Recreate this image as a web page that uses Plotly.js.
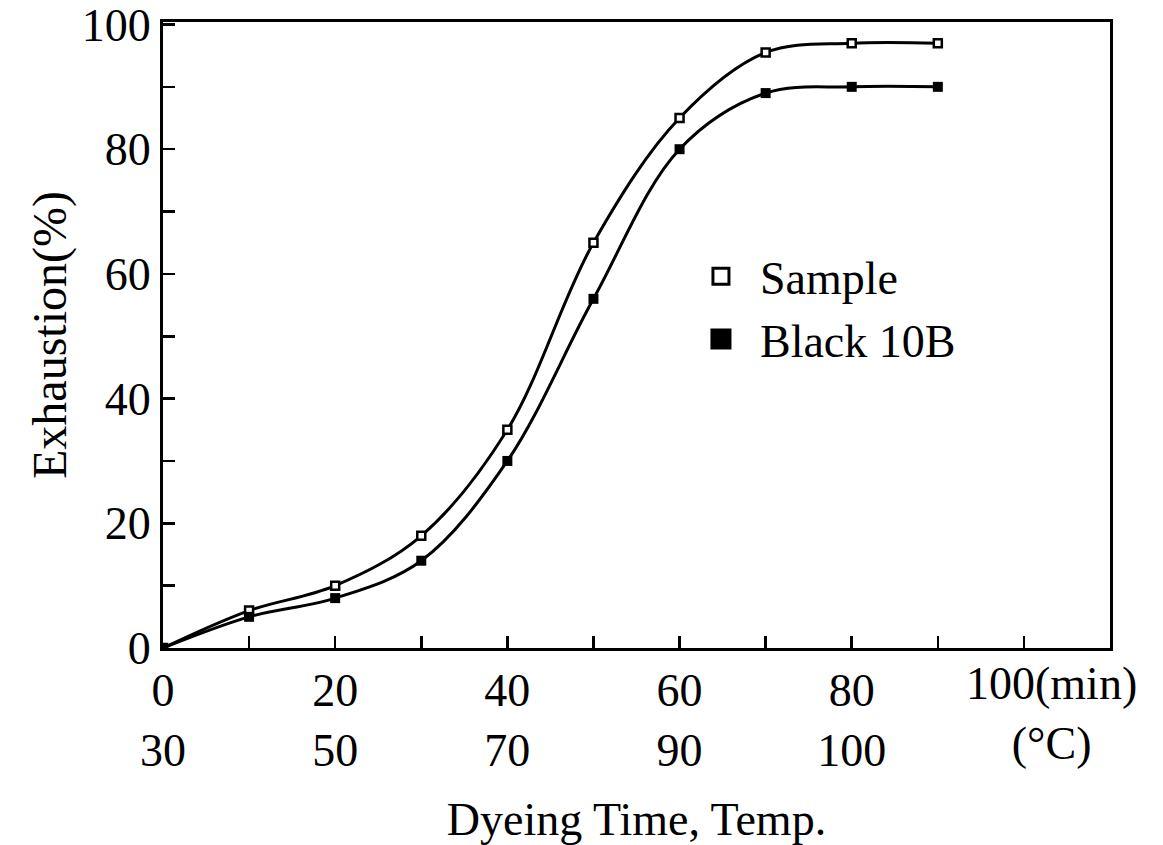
<!DOCTYPE html>
<html>
<head>
<meta charset="utf-8">
<script src="https://cdn.plot.ly/plotly-3.0.1.min.js"></script>
<style>html,body{margin:0;padding:0;background:#fff}#chart{width:1163px;height:845px}</style>
</head>
<body>
<div id="chart"></div>
<script>
const dyeTime = [0, 10, 20, 30, 40, 50, 60, 70, 80, 90];
const sampleExhaustion = [0, 6, 10, 18, 35, 65, 85, 95.5, 97, 97];
const black10BExhaustion = [0, 5, 8, 14, 30, 56, 80, 89, 90, 90];
const timeTickVals = [0, 20, 40, 60, 80];
const timeTickLabels = ['0', '20', '40', '60', '80'];
const tempTickLabels = ['30', '50', '70', '90', '100'];
const exhaustionTickVals = [0, 20, 40, 60, 80, 100];
const lastTimeLabel = '100(min)';
const lastTempLabel = '(°C)';
const seriesNames = ['Sample', 'Black 10B'];

const FONT = 'Liberation Serif, Times New Roman, serif';
const ticktext = timeTickLabels.map((t, i) => t + '<br>' + tempTickLabels[i]);

const lineStyle = {color: '#000', width: 3, shape: 'spline', smoothing: 1};
const traces = [
  {x: dyeTime, y: sampleExhaustion, name: seriesNames[0], mode: 'lines+markers', type: 'scatter',
   line: lineStyle, showlegend: false,
   marker: {symbol: 'square', size: 8, color: '#fff', line: {width: 2.5, color: '#000'}}},
  {x: dyeTime, y: black10BExhaustion, name: seriesNames[1], mode: 'lines+markers', type: 'scatter',
   line: lineStyle, showlegend: false,
   marker: {symbol: 'square', size: 10, color: '#000'}},
  {x: [null], y: [null], name: seriesNames[0], mode: 'markers', type: 'scatter',
   marker: {symbol: 'square', size: 30, color: '#fff', line: {width: 3, color: '#000'}}},
  {x: [null], y: [null], name: seriesNames[1], mode: 'markers', type: 'scatter',
   marker: {symbol: 'square', size: 30, color: '#000', line: {width: 5, color: '#000'}}}
];

const layout = {
  width: 1163, height: 845,
  margin: {l: 163, r: 53, t: 22, b: 197},
  paper_bgcolor: '#fff', plot_bgcolor: '#fff',
  font: {family: FONT, color: '#000', size: 46},
  showlegend: true,
  legend: {x: 0.548, y: 0.652, xanchor: 'left', yanchor: 'top', bgcolor: 'rgba(0,0,0,0)',
           font: {size: 46, family: FONT}, itemwidth: 68, tracegroupgap: 0},
  xaxis: {
    range: [0, 110], showgrid: false, zeroline: false,
    showline: true, linewidth: 3, linecolor: '#000', mirror: true,
    tickmode: 'array', tickvals: timeTickVals, ticktext: ticktext,
    ticks: 'inside', ticklen: 12, tickwidth: 2.5, tickcolor: '#000',
    tickfont: {size: 46, family: FONT}, ticklabeloverflow: 'allow',
    minor: {dtick: 10, tick0: 0, ticks: 'inside', ticklen: 12, tickwidth: 2.5, tickcolor: '#000', showgrid: false},
    title: {text: 'Dyeing Time, Temp.', font: {size: 46, family: FONT}, standoff: 29},
    automargin: false
  },
  yaxis: {
    range: [0, 100.4], showgrid: false, zeroline: false,
    showline: true, linewidth: 3, linecolor: '#000', mirror: true,
    tickmode: 'array', tickvals: exhaustionTickVals,
    ticks: 'inside', ticklen: 12, tickwidth: 2.5, tickcolor: '#000',
    tickfont: {size: 46, family: FONT}, ticklabeloverflow: 'allow',
    minor: {dtick: 10, tick0: 0, ticks: 'inside', ticklen: 12, tickwidth: 2.5, tickcolor: '#000', showgrid: false},
    title: {text: 'Exhaustion(%)', font: {size: 48, family: FONT}, standoff: 0},
    automargin: false
  },
  annotations: [
    {x: 100, y: 0, xref: 'x', yref: 'paper', text: lastTimeLabel + '<br>' + lastTempLabel,
     showarrow: false, xanchor: 'center', yanchor: 'top', xshift: 28, yshift: -8,
     font: {size: 46, family: FONT, color: '#000'}}
  ]
};

Plotly.newPlot('chart', traces, layout, {displayModeBar: false, staticPlot: true});
</script>
</body>
</html>
